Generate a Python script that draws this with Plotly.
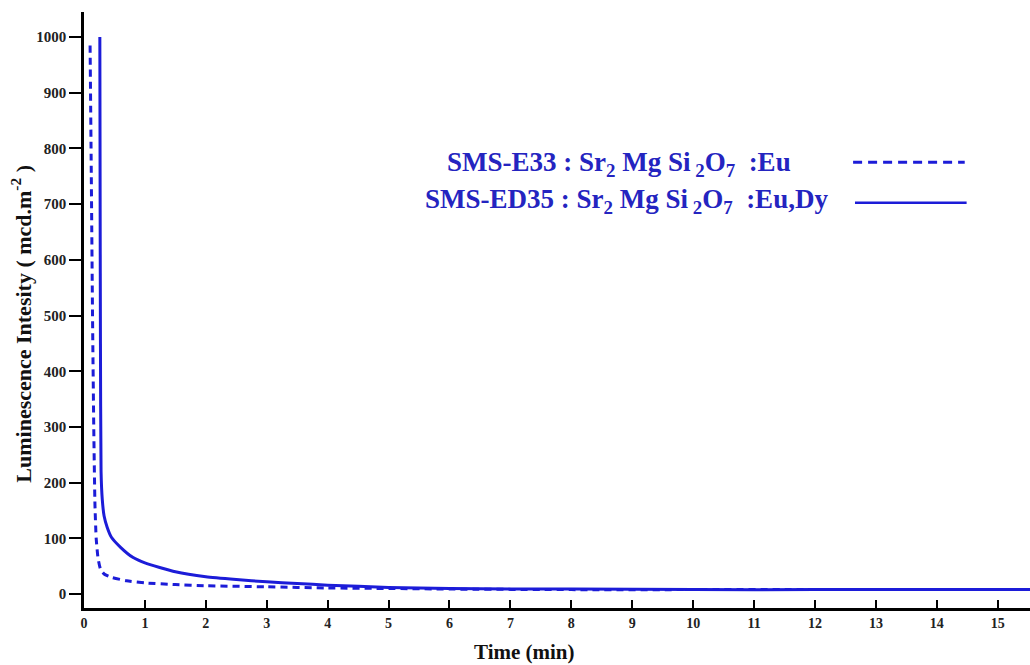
import plotly.graph_objects as go

# Data
time_e33 = [0.10, 0.12, 0.14, 0.16, 0.18, 0.20, 0.23, 0.27, 0.33, 0.45, 0.7, 1.0, 1.5, 2.0, 3.0, 4.0, 5.0, 6.0, 8.0, 10.0, 12.0, 15.6]
lum_e33 = [985, 750, 500, 300, 160, 100, 65, 45, 36, 30, 24, 20, 17, 15, 13, 11, 10, 9, 8, 8, 8, 8]

time_ed35 = [0.26, 0.265, 0.27, 0.28, 0.30, 0.33, 0.38, 0.45, 0.6, 0.8, 1.0, 1.5, 2.0, 2.5, 3.0, 3.5, 4.0, 5.0, 6.0, 7.0, 8.0, 10.0, 12.0, 15.6]
lum_ed35 = [1000, 700, 450, 220, 170, 140, 120, 102, 84, 66, 56, 40, 31, 26, 22, 19, 16, 12, 10, 9, 9, 8, 8, 8]

x_ticks = list(range(0, 16))
y_ticks = list(range(0, 1001, 100))

series_names = ["SMS-E33 : Sr<sub>2</sub> Mg Si<sub> 2</sub>O<sub>7</sub>  :Eu",
                "SMS-ED35 : Sr<sub>2</sub> Mg Si<sub> 2</sub>O<sub>7</sub>  :Eu,Dy"]
x_title = "Time (min)"
y_title = "Luminescence Intesity ( mcd.m<sup>-2</sup> )"

blue = "#1c1cd8"
text_blue = "#2424c0"
font_family = "Liberation Serif, Times New Roman, serif"

fig = go.Figure()
fig.add_trace(go.Scatter(x=time_e33, y=lum_e33, mode="lines",
                         line=dict(color=blue, width=3, dash="7px,5px", shape="spline", smoothing=0.5),
                         name=series_names[0], showlegend=False))
fig.add_trace(go.Scatter(x=time_ed35, y=lum_ed35, mode="lines",
                         line=dict(color=blue, width=3, shape="spline", smoothing=0.5),
                         name=series_names[1], showlegend=False))

# Legend-like annotations (text then line sample)
fig.add_annotation(xref="paper", yref="paper", x=0.3816, y=0.745, xanchor="left", yanchor="middle",
                   text="<b>" + series_names[0] + "</b>", showarrow=False,
                   font=dict(family=font_family, size=27, color=text_blue))
fig.add_annotation(xref="paper", yref="paper", x=0.3584, y=0.683, xanchor="left", yanchor="middle",
                   text="<b>" + series_names[1] + "</b>", showarrow=False,
                   font=dict(family=font_family, size=27, color=text_blue))
fig.add_shape(type="line", xref="paper", yref="paper", x0=0.813, x1=0.931, y0=0.748, y1=0.748,
              line=dict(color=blue, width=3, dash="9px,6px"))
fig.add_shape(type="line", xref="paper", yref="paper", x0=0.815, x1=0.933, y0=0.680, y1=0.680,
              line=dict(color=blue, width=2.5))

# Axis titles
fig.add_annotation(xref="paper", yref="paper", x=0.466, y=-0.074, xanchor="center", yanchor="middle",
                   text="<b>" + x_title + "</b>", showarrow=False,
                   font=dict(family=font_family, size=21, color="#111"))
fig.add_annotation(xref="paper", yref="paper", x=-0.0666, y=0.477, xanchor="center", yanchor="middle",
                   text="<b>" + y_title + "</b>", showarrow=False, textangle=-90,
                   font=dict(family=font_family, size=22, color="#111"))

fig.update_layout(
    width=1030, height=665,
    margin=dict(l=84, r=0, t=12, b=57),
    plot_bgcolor="white", paper_bgcolor="white",
    font=dict(family=font_family, color="black"),
    showlegend=False,
)
fig.update_xaxes(
    range=[0, 15.53], tickvals=x_ticks, ticktext=[f"<b>{v}</b>" for v in x_ticks],
    ticks="inside", ticklen=8, tickwidth=2, tickcolor="black",
    showline=True, linecolor="black", linewidth=2.5, showgrid=False, zeroline=False,
    tickfont=dict(size=14, family=font_family, color="#222"),
)
fig.update_yaxes(
    range=[-25, 1045], tickvals=y_ticks, ticktext=[f"<b>{v}</b>" for v in y_ticks],
    ticks="outside", ticklen=12, tickwidth=2, tickcolor="black",
    showline=True, linecolor="black", linewidth=2.5, showgrid=False, zeroline=False,
    tickfont=dict(size=15, family=font_family, color="#222"),
)

fig.write_html("out.html")
